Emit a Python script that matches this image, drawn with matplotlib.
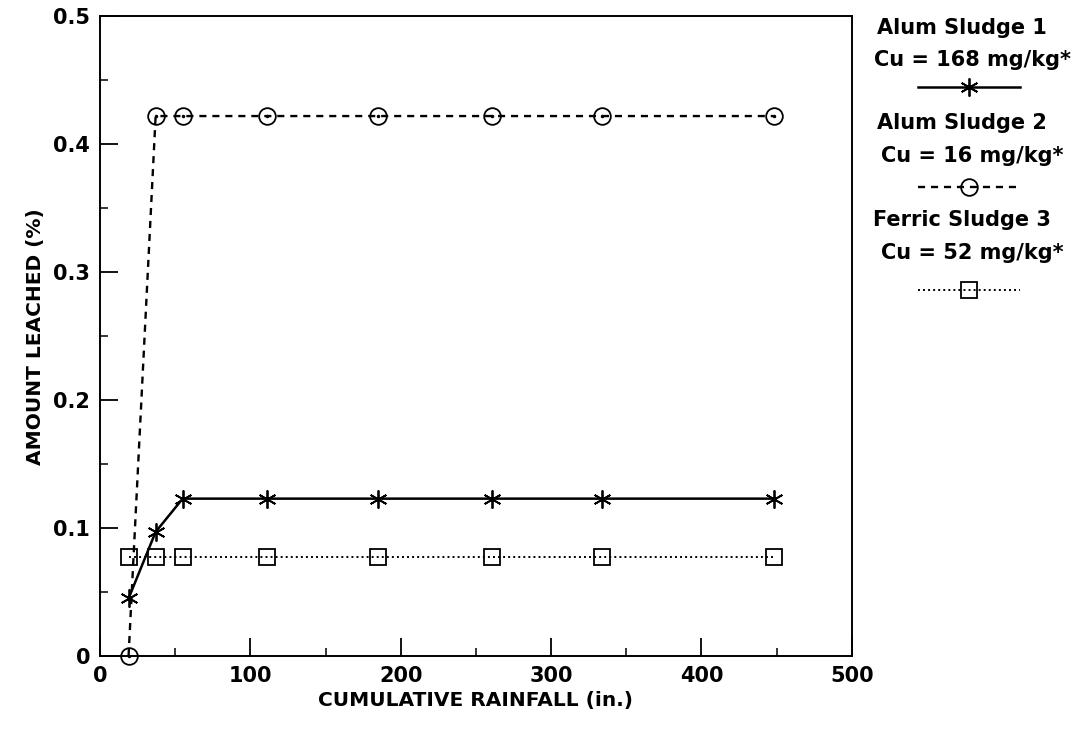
import matplotlib
matplotlib.use("Agg")
import matplotlib.pyplot as plt
from matplotlib.lines import Line2D
from matplotlib.ticker import MultipleLocator

plt.rcParams['font.family'] = ['DejaVu Sans']
plt.rcParams['font.weight'] = 'bold'
plt.rcParams['axes.labelweight'] = 'bold'

# cumulative rainfall (in.)
rain = [19, 37, 55, 111, 185, 261, 334, 448]

# amount leached (%)
alum1 = [0.045, 0.097, 0.123, 0.123, 0.123, 0.123, 0.123, 0.123]
alum2 = [0.0, 0.422, 0.422, 0.422, 0.422, 0.422, 0.422, 0.422]
ferric3 = [0.077, 0.077, 0.077, 0.077, 0.077, 0.077, 0.077, 0.077]

names = ["Alum Sludge 1", "Alum Sludge 2", "Ferric Sludge 3"]
conc = ["Cu = 168 mg/kg*", "Cu = 16 mg/kg*", "Cu = 52 mg/kg*"]

fig = plt.figure(figsize=(10.81, 7.32), dpi=100)
ax = fig.add_axes([0.0925, 0.1038, 0.6955, 0.874])

star = (6, 2, 0)
styles = [
    dict(ls='-', marker=star, ms=13, lw=1.8),
    dict(ls=(0, (3, 2.5)), marker='o', ms=12, lw=1.7, mfc='none'),
    dict(ls=(0, (1, 1.6)), marker='s', ms=11, lw=1.4, mfc='none'),
]

for ys, st in zip([alum1, alum2, ferric3], styles):
    ax.plot(rain, ys, color='black', mec='black', mew=1.3, clip_on=False, **st)

# tiny dots in the centre of the open circles
ax.plot(rain, alum2, ls='none', marker='.', ms=3, color='black', clip_on=False)

ax.set_xlim(0, 500)
ax.set_ylim(0, 0.5)
ax.xaxis.set_major_locator(MultipleLocator(100))
ax.xaxis.set_minor_locator(MultipleLocator(50))
ax.yaxis.set_minor_locator(MultipleLocator(0.05))
ax.set_yticks([0, 0.1, 0.2, 0.3, 0.4, 0.5])
ax.set_yticklabels(["0", "0.1", "0.2", "0.3", "0.4", "0.5"])
ax.tick_params(which='major', direction='in', length=13, width=1.3,
               labelsize=15, top=False, right=False, pad=7)
ax.tick_params(which='minor', direction='in', length=6, width=1.1,
               top=False, right=False)
for sp in ax.spines.values():
    sp.set_linewidth(1.4)

ax.set_xlabel("CUMULATIVE RAINFALL (in.)", fontsize=14.5, labelpad=4)
ax.set_ylabel("AMOUNT LEACHED (%)", fontsize=14.5, labelpad=6)

# legend block on the right
W, H = 1081.0, 732.0
name_y = [28, 123, 220]
conc_y = [60, 156, 253]
line_y = [87, 187, 290]
for i in range(3):
    fig.text(962 / W, 1 - name_y[i] / H, names[i], ha='center', va='center',
             fontsize=15)
    fig.text(972 / W, 1 - conc_y[i] / H, conc[i], ha='center', va='center',
             fontsize=15)
    yl = 1 - line_y[i] / H
    st = dict(styles[i])
    ms = st.pop('ms')
    marker = st.pop('marker')
    fig.add_artist(Line2D([918 / W, 1020 / W], [yl, yl], color='black',
                          ls=st['ls'], lw=st['lw']))
    fig.add_artist(Line2D([969 / W], [yl], color='black', ls='none',
                          marker=marker, ms=ms, mfc='none', mec='black',
                          mew=1.3))

fig.savefig("out.png", dpi=100)
